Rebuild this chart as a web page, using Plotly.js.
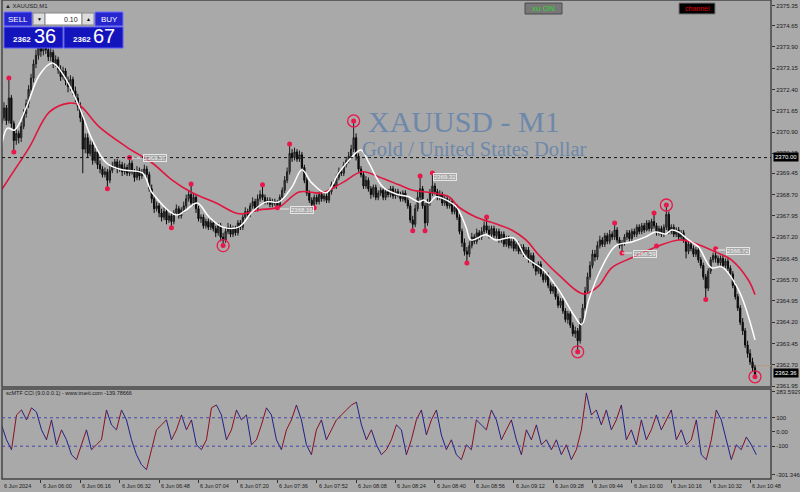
<!DOCTYPE html>
<html><head><meta charset="utf-8">
<script src="https://cdn.plot.ly/plotly-3.0.1.min.js"></script>
<style>html,body{margin:0;padding:0;background:#a9a9a9;overflow:hidden}#chart{width:800px;height:492px}</style>
</head><body><div id="chart"></div>
<script>
// ---- time axis labels (every 16 bars of M1, first bar 05:44) ----
const timeLabels = ['6 Jun 2024','6 Jun 06:00','6 Jun 06:16','6 Jun 06:32','6 Jun 06:48','6 Jun 07:04','6 Jun 07:20','6 Jun 07:36','6 Jun 07:52','6 Jun 08:08','6 Jun 08:24','6 Jun 08:40','6 Jun 08:56','6 Jun 09:12','6 Jun 09:28','6 Jun 09:44','6 Jun 10:00','6 Jun 10:16','6 Jun 10:32','6 Jun 10:48'];
const labelEvery = 16;

// ---- M1 candles ----
const open = [
2371.20,2371.40,2371.75,2371.30,2372.10,2371.20,2370.60,2370.85,2370.70,2371.10,
2371.55,2371.90,2372.40,2372.80,2373.30,2373.60,2373.90,2373.75,2374.00,2373.80,
2373.55,2373.70,2373.30,2373.45,2373.10,2372.85,2373.05,2372.70,2372.50,2372.75,
2372.35,2372.10,2371.80,2371.40,2370.30,2370.70,2370.15,2370.45,2369.90,2370.20,
2369.75,2369.60,2369.40,2369.50,2369.20,2369.55,2369.70,2369.85,2369.60,2369.75,
2369.50,2369.65,2369.45,2369.80,2369.50,2369.30,2369.55,2369.35,2369.45,2369.60,
2369.40,2368.90,2368.55,2368.20,2368.30,2368.05,2367.90,2368.10,2367.80,2367.95,
2367.75,2368.05,2368.20,2367.95,2368.15,2368.30,2368.55,2368.70,2368.40,2368.60,
2368.20,2367.85,2367.90,2367.60,2367.75,2367.55,2367.70,2367.50,2367.35,2367.60,
2367.20,2367.10,2367.40,2367.55,2367.30,2367.50,2367.35,2367.70,2367.55,2367.90,
2368.10,2368.00,2368.30,2368.45,2368.20,2368.55,2368.70,2368.60,2368.45,2368.50,
2368.35,2368.45,2368.40,2368.30,2368.60,2368.85,2369.20,2369.50,2370.15,2370.00,
2370.20,2369.95,2370.10,2369.65,2369.20,2368.75,2368.50,2368.35,2368.60,2368.45,
2368.70,2368.55,2368.65,2368.50,2368.80,2369.05,2369.00,2369.30,2369.50,2369.45,
2369.75,2369.90,2370.05,2370.30,2370.70,2370.05,2369.60,2369.40,2369.00,2369.20,
2368.90,2368.70,2368.95,2368.60,2368.75,2368.85,2368.60,2368.80,2368.70,2368.90,
2368.65,2368.80,2368.70,2368.55,2368.75,2368.50,2368.30,2367.80,2367.65,2368.20,
2368.60,2368.90,2368.30,2367.70,2368.40,2368.75,2369.00,2368.80,2368.60,2368.70,
2368.40,2368.55,2368.30,2368.45,2368.10,2368.25,2367.90,2367.40,2367.00,2366.70,
2366.60,2366.90,2367.20,2367.05,2367.35,2367.20,2367.40,2367.60,2367.45,2367.30,
2367.50,2367.25,2367.40,2367.10,2367.30,2366.95,2367.15,2366.90,2367.05,2366.80,
2366.95,2366.70,2366.85,2366.60,2366.75,2366.40,2366.55,2366.20,2366.00,2366.25,
2365.90,2365.70,2365.85,2365.50,2365.30,2365.45,2365.10,2364.80,2364.95,2364.60,
2364.30,2364.50,2364.10,2363.80,2363.90,2363.55,2364.20,2364.70,2365.30,2365.80,
2366.20,2366.60,2366.50,2366.90,2367.10,2366.95,2367.25,2367.05,2367.30,2367.20,
2367.45,2367.10,2366.90,2367.00,2367.20,2367.35,2367.15,2367.40,2367.30,2367.55,
2367.40,2367.60,2367.45,2367.70,2367.50,2367.75,2367.60,2367.35,2367.50,2367.30,
2367.55,2368.00,2367.40,2367.55,2367.30,2367.45,2367.20,2367.35,2367.10,2366.70,
2366.95,2366.80,2366.60,2366.75,2366.40,2366.20,2365.80,2365.40,2366.00,2366.40,
2366.55,2366.45,2366.30,2366.45,2366.20,2366.35,2366.10,2365.90,2365.50,2365.10,
2364.70,2364.20,2363.90,2363.40,2363.10,2362.80,2362.60];
const high = [
2371.60,2371.95,2371.85,2372.80,2372.20,2371.30,2371.05,2370.95,2371.25,2371.70,
2372.05,2372.55,2372.95,2373.45,2373.80,2374.15,2374.05,2374.25,2374.15,2373.95,
2373.85,2373.80,2373.60,2373.55,2373.25,2373.20,2373.15,2372.85,2372.90,2372.85,
2372.50,2372.25,2371.95,2371.55,2370.85,2370.85,2370.60,2370.60,2370.35,2370.30,
2369.90,2369.70,2369.65,2369.60,2369.70,2369.85,2369.95,2369.95,2369.90,2369.85,
2369.80,2369.75,2370.00,2369.90,2369.60,2369.70,2369.65,2369.60,2369.75,2369.70,
2369.50,2369.05,2368.70,2368.45,2368.40,2368.20,2368.25,2368.20,2368.05,2368.05,
2368.15,2368.35,2368.30,2368.25,2368.45,2368.70,2368.85,2369.07,2368.75,2368.70,
2368.30,2368.00,2368.00,2367.85,2367.85,2367.80,2367.80,2367.60,2367.70,2367.70,
2367.35,2367.55,2367.70,2367.65,2367.60,2367.60,2367.80,2367.80,2368.00,2368.25,
2368.20,2368.40,2368.60,2368.55,2368.70,2368.85,2369.04,2368.70,2368.60,2368.60,
2368.55,2368.55,2368.50,2368.70,2368.95,2369.35,2369.65,2370.48,2370.30,2370.35,
2370.30,2370.25,2370.20,2369.75,2369.30,2368.85,2368.60,2368.70,2368.70,2368.80,
2368.80,2368.75,2368.75,2368.90,2369.15,2369.20,2369.40,2369.65,2369.60,2369.85,
2370.00,2370.20,2370.45,2371.29,2370.85,2370.15,2369.70,2369.50,2369.35,2369.30,
2369.00,2369.05,2369.05,2368.85,2368.95,2368.95,2368.90,2368.90,2369.00,2369.00,
2368.90,2368.90,2368.80,2368.85,2368.85,2368.60,2368.40,2367.95,2368.35,2368.80,
2369.35,2369.00,2368.40,2368.55,2368.90,2369.46,2369.10,2368.90,2368.85,2368.80,
2368.65,2368.65,2368.55,2368.55,2368.35,2368.35,2368.00,2367.50,2367.15,2366.85,
2367.05,2367.35,2367.30,2367.50,2367.45,2367.55,2367.75,2367.91,2367.60,2367.60,
2367.60,2367.50,2367.50,2367.40,2367.40,2367.25,2367.25,2367.15,2367.15,2367.05,
2367.05,2366.95,2366.95,2366.85,2366.85,2366.65,2366.65,2366.30,2366.35,2366.35,
2366.00,2365.95,2365.95,2365.60,2365.55,2365.55,2365.20,2365.05,2365.05,2364.70,
2364.60,2364.60,2364.20,2364.05,2364.00,2364.35,2364.85,2365.45,2365.95,2366.35,
2366.75,2366.75,2367.05,2367.25,2367.20,2367.35,2367.35,2367.45,2367.40,2367.70,
2367.55,2367.20,2367.10,2367.30,2367.45,2367.45,2367.50,2367.50,2367.65,2367.65,
2367.70,2367.70,2367.80,2367.80,2367.85,2368.05,2367.70,2367.60,2367.60,2367.65,
2368.33,2368.10,2367.65,2367.65,2367.55,2367.55,2367.45,2367.45,2367.20,2367.05,
2367.05,2366.90,2366.85,2366.85,2366.50,2366.30,2365.90,2366.10,2366.50,2366.65,
2366.79,2366.55,2366.55,2366.55,2366.45,2366.45,2366.20,2366.00,2365.60,2365.20,
2364.80,2364.35,2364.00,2363.55,2363.25,2362.95,2362.70];
const low = [
2371.05,2371.30,2371.15,2371.20,2371.05,2370.20,2370.45,2370.50,2370.55,2371.00,
2371.40,2371.75,2372.25,2372.65,2373.15,2373.45,2373.55,2373.60,2373.65,2373.40,
2373.40,2373.15,2373.20,2372.95,2372.70,2372.75,2372.55,2372.30,2372.35,2372.20,
2371.95,2371.65,2371.25,2369.45,2370.15,2370.00,2370.05,2369.75,2369.80,2369.60,
2369.45,2369.30,2369.30,2368.90,2369.10,2369.45,2369.60,2369.45,2369.50,2369.35,
2369.40,2369.35,2369.35,2369.40,2369.15,2369.20,2369.20,2369.25,2369.35,2369.25,
2368.80,2368.40,2368.05,2368.10,2367.90,2367.75,2367.80,2367.65,2367.70,2367.53,
2367.65,2367.95,2367.85,2367.85,2368.05,2368.20,2368.45,2368.30,2368.30,2368.05,
2367.75,2367.70,2367.50,2367.50,2367.45,2367.45,2367.40,2367.20,2367.25,2367.05,
2366.90,2367.00,2367.30,2367.20,2367.20,2367.25,2367.25,2367.45,2367.45,2367.80,
2367.90,2367.90,2368.20,2368.10,2368.10,2368.45,2368.50,2368.35,2368.35,2368.25,
2368.25,2368.30,2368.23,2368.25,2368.50,2368.75,2369.10,2369.40,2369.85,2369.90,
2369.85,2369.85,2369.55,2369.10,2368.65,2368.40,2368.25,2368.23,2368.35,2368.35,
2368.45,2368.45,2368.40,2368.40,2368.70,2368.90,2368.90,2369.20,2369.35,2369.35,
2369.65,2369.80,2369.95,2370.20,2369.90,2369.50,2369.30,2368.90,2368.90,2368.80,
2368.55,2368.60,2368.50,2368.50,2368.65,2368.50,2368.50,2368.60,2368.60,2368.55,
2368.55,2368.60,2368.45,2368.45,2368.40,2368.20,2367.70,2367.42,2367.55,2368.10,
2368.50,2368.20,2367.42,2367.60,2368.30,2368.65,2368.70,2368.50,2368.50,2368.30,
2368.30,2368.20,2368.20,2368.00,2368.00,2367.80,2367.30,2366.85,2366.55,2366.29,
2366.50,2366.80,2366.95,2366.95,2367.10,2367.10,2367.30,2367.35,2367.15,2367.20,
2367.15,2367.15,2367.00,2367.00,2366.85,2366.85,2366.80,2366.80,2366.70,2366.70,
2366.60,2366.60,2366.50,2366.50,2366.30,2366.30,2366.10,2365.85,2365.90,2365.80,
2365.60,2365.60,2365.40,2365.20,2365.20,2365.00,2364.70,2364.70,2364.50,2364.20,
2364.15,2364.00,2363.70,2363.65,2363.16,2363.45,2364.10,2364.60,2365.20,2365.70,
2366.10,2366.35,2366.40,2366.80,2366.85,2366.85,2366.95,2366.95,2367.10,2367.10,
2367.00,2366.80,2366.64,2366.90,2367.10,2367.05,2367.05,2367.20,2367.20,2367.30,
2367.30,2367.35,2367.40,2367.40,2367.40,2367.50,2367.25,2367.25,2367.20,2367.20,
2367.45,2367.30,2367.30,2367.20,2367.20,2367.10,2367.10,2367.00,2366.45,2366.60,
2366.70,2366.50,2366.50,2366.30,2366.10,2365.70,2365.00,2365.30,2365.90,2366.30,
2366.30,2366.20,2366.20,2366.10,2366.10,2366.00,2365.80,2365.40,2365.00,2364.60,
2364.10,2363.75,2363.30,2362.95,2362.70,2362.45,2362.28];
const close = [
2371.40,2371.75,2371.30,2372.10,2371.20,2370.60,2370.85,2370.70,2371.10,2371.55,
2371.90,2372.40,2372.80,2373.30,2373.60,2373.90,2373.75,2374.00,2373.80,2373.55,
2373.70,2373.30,2373.45,2373.10,2372.85,2373.05,2372.70,2372.50,2372.75,2372.35,
2372.10,2371.80,2371.40,2370.30,2370.70,2370.15,2370.45,2369.90,2370.20,2369.75,
2369.60,2369.40,2369.50,2369.20,2369.55,2369.70,2369.85,2369.60,2369.75,2369.50,
2369.65,2369.45,2369.80,2369.50,2369.30,2369.55,2369.35,2369.45,2369.60,2369.40,
2368.90,2368.55,2368.20,2368.30,2368.05,2367.90,2368.10,2367.80,2367.95,2367.75,
2368.05,2368.20,2367.95,2368.15,2368.30,2368.55,2368.70,2368.40,2368.60,2368.20,
2367.85,2367.90,2367.60,2367.75,2367.55,2367.70,2367.50,2367.35,2367.60,2367.20,
2367.10,2367.40,2367.55,2367.30,2367.50,2367.35,2367.70,2367.55,2367.90,2368.10,
2368.00,2368.30,2368.45,2368.20,2368.55,2368.70,2368.60,2368.45,2368.50,2368.35,
2368.45,2368.40,2368.30,2368.60,2368.85,2369.20,2369.50,2370.15,2370.00,2370.20,
2369.95,2370.10,2369.65,2369.20,2368.75,2368.50,2368.35,2368.60,2368.45,2368.70,
2368.55,2368.65,2368.50,2368.80,2369.05,2369.00,2369.30,2369.50,2369.45,2369.75,
2369.90,2370.05,2370.30,2370.70,2370.05,2369.60,2369.40,2369.00,2369.20,2368.90,
2368.70,2368.95,2368.60,2368.75,2368.85,2368.60,2368.80,2368.70,2368.90,2368.65,
2368.80,2368.70,2368.55,2368.75,2368.50,2368.30,2367.80,2367.65,2368.20,2368.60,
2368.90,2368.30,2367.70,2368.40,2368.75,2369.00,2368.80,2368.60,2368.70,2368.40,
2368.55,2368.30,2368.45,2368.10,2368.25,2367.90,2367.40,2367.00,2366.70,2366.60,
2366.90,2367.20,2367.05,2367.35,2367.20,2367.40,2367.60,2367.45,2367.30,2367.50,
2367.25,2367.40,2367.10,2367.30,2366.95,2367.15,2366.90,2367.05,2366.80,2366.95,
2366.70,2366.85,2366.60,2366.75,2366.40,2366.55,2366.20,2366.00,2366.25,2365.90,
2365.70,2365.85,2365.50,2365.30,2365.45,2365.10,2364.80,2364.95,2364.60,2364.30,
2364.50,2364.10,2363.80,2363.90,2363.55,2364.20,2364.70,2365.30,2365.80,2366.20,
2366.60,2366.50,2366.90,2367.10,2366.95,2367.25,2367.05,2367.30,2367.20,2367.45,
2367.10,2366.90,2367.00,2367.20,2367.35,2367.15,2367.40,2367.30,2367.55,2367.40,
2367.60,2367.45,2367.70,2367.50,2367.75,2367.60,2367.35,2367.50,2367.30,2367.55,
2368.00,2367.40,2367.55,2367.30,2367.45,2367.20,2367.35,2367.10,2366.70,2366.95,
2366.80,2366.60,2366.75,2366.40,2366.20,2365.80,2365.40,2366.00,2366.40,2366.55,
2366.45,2366.30,2366.45,2366.20,2366.35,2366.10,2365.90,2365.50,2365.10,2364.70,
2364.20,2363.90,2363.40,2363.10,2362.80,2362.60,2362.36];

// ---- moving averages (bar index, price) ----
const whiteMaBar = [0,2.4,5.3,10.1,15.4,20.7,26.4,31.6,36.9,42.6,49,57.2,61.2,71,75,79.5,84.3,89.6,96.5,101.8,107.5,112.7,118,122,126,131.8,137,142.3,146,149.2,155,161.4,165.4,169.5,171.5,173.6,176.4,180.5,185,188.6,190.6,196.7,200.7,208,212.9,220,226.3,232.4,235.6,238.5,243.3,249.4,255.9,261.6,265.6,269.7,272.1,275,279,283,288.3,292.4,299.3,306];
const whiteMa = [2370.38,2371.04,2370.97,2371.78,2372.91,2373.33,2372.73,2371.78,2370.62,2369.81,2369.57,2369.46,2368.76,2367.98,2368.16,2368.40,2367.91,2367.56,2367.56,2368.09,2368.44,2368.44,2368.97,2369.57,2369.11,2368.76,2369.46,2370.02,2370.27,2369.81,2368.95,2368.69,2368.62,2368.44,2368.51,2368.40,2368.62,2368.51,2368.23,2367.56,2367.10,2367.28,2367.10,2367.17,2366.50,2366.05,2365.34,2364.46,2364.11,2364.99,2366.05,2366.89,2367.03,2367.21,2367.38,2367.31,2367.45,2367.38,2367.10,2366.86,2366.12,2366.15,2365.34,2363.58];
const redMaBar = [0,4.5,11.4,19.5,27.6,31.6,39.7,50.7,61.2,69.3,77.5,87.2,96.5,104.6,112.7,120.8,130.2,138.3,146.4,153.3,161.4,166.7,174.8,181.7,185.7,192.6,202,207.2,213,218.2,226.3,236.4,242.5,247.8,255.9,266.8,275,280.2,289.9,296.4,303.3,306];
const redMa = [2368.86,2369.46,2370.38,2371.61,2371.92,2371.85,2371.08,2370.38,2369.81,2369.21,2368.76,2368.40,2368.02,2368.16,2368.26,2368.79,2368.76,2369.11,2369.50,2369.32,2369.04,2368.86,2368.76,2368.62,2368.26,2367.91,2367.63,2367.45,2367.10,2366.57,2365.87,2365.20,2365.48,2366.12,2366.47,2366.89,2367.10,2367.03,2366.68,2366.40,2365.69,2365.17];

// ---- swing markers ----
const dotBar = [3,5,43,52,69,77,106,112,117,127,167,170,172,175,189,197,249,252,265,266,286,290];
const dotPrice = [2372.80,2370.20,2368.90,2370.00,2367.53,2369.07,2369.04,2368.23,2370.48,2368.23,2367.42,2369.35,2367.42,2369.46,2366.29,2367.91,2367.70,2366.64,2368.05,2366.89,2365.00,2366.79];
const ringBar = [90,143,234,270,306];
const ringPrice = [2366.90,2371.29,2363.16,2368.33,2362.28];

// ---- CCI (one reading every 2 bars) ----
const cci = [50,-55,-125,120,155,85,170,140,15,-55,85,-90,15,-55,-160,-195,-90,15,-125,-90,-55,155,50,15,155,85,-55,-160,-230,-265,-125,15,50,85,-55,15,120,15,85,-90,-125,-55,170,190,120,-55,15,155,85,120,-90,-55,50,170,120,-55,-125,15,85,190,85,-90,-160,15,85,-55,15,85,120,155,190,210,50,-55,15,-90,-160,-125,-55,50,15,-160,-55,85,155,-21,85,155,-21,-125,-55,-160,-195,-90,-125,85,50,15,155,85,-55,15,85,-55,-160,15,-55,50,-90,-55,-125,-55,-160,-90,-195,-125,15,275,120,155,50,155,15,85,190,-55,15,-90,85,-55,15,120,15,85,155,-55,15,-90,-55,85,-160,-195,-55,155,85,-55,-195,-90,-125,-35,-90,-160];
const cciStep = 2.03;

// ---- tick values ----
const priceTicks = [2375.35,2374.65,2373.90,2373.15,2372.40,2371.65,2370.90,2370.15,2369.45,2368.70,2367.95,2367.20,2366.45,2365.70,2364.95,2364.20,2363.45,2362.70,2361.95];
const cciTicks = [283.59294,100,0,-100,-301.3463];
const cciTickText = ['283.59294','100','0.00','-100','-301.3463'];

// ---------------------------------------------------------------
const bars = close.map((_, i) => i);
const PW = 769, PH = 479, LM = 2;
const XR = [0.2, 312.5];
const px = x => (x - LM) / PW;
const py = y => 1 - y / PH;
const barToPaper = m => (m - XR[0]) / (XR[1] - XR[0]);
const F = 'Liberation Sans, Arial, sans-serif';

const traces = [];
traces.push({type:'candlestick', x:bars, open:open, high:high, low:low, close:close, xaxis:'x', yaxis:'y',
  increasing:{line:{color:'#1c1c1c', width:1}, fillcolor:'#5a5a5a'},
  decreasing:{line:{color:'#0a0a0a', width:1}, fillcolor:'#111111'},
  whiskerwidth:0, hoverinfo:'skip'});
traces.push({type:'scatter', mode:'lines', x:redMaBar, y:redMa, line:{color:'#e0163f', width:1.6, shape:'spline'}, hoverinfo:'skip'});
traces.push({type:'scatter', mode:'lines', x:whiteMaBar, y:whiteMa, line:{color:'#ffffff', width:1.5, shape:'spline'}, hoverinfo:'skip'});
traces.push({type:'scatter', mode:'markers', x:dotBar, y:dotPrice, marker:{color:'#e8184b', size:5}, hoverinfo:'skip'});
traces.push({type:'scatter', mode:'markers', x:ringBar, y:ringPrice, marker:{color:'#e8184b', size:5}, hoverinfo:'skip'});
traces.push({type:'scatter', mode:'markers', x:ringBar, y:ringPrice, marker:{symbol:'circle-open', color:'#e8184b', size:12, line:{width:1.3, color:'#e8184b'}}, hoverinfo:'skip'});

// CCI coloured by direction
const upX=[], upY=[], dnX=[], dnY=[];
for (let i = 0; i < cci.length - 1; i++) {
  const a = i*cciStep, b = (i+1)*cciStep;
  if (cci[i+1] >= cci[i]) { upX.push(a,b,null); upY.push(cci[i],cci[i+1],null); }
  else { dnX.push(a,b,null); dnY.push(cci[i],cci[i+1],null); }
}
traces.push({type:'scatter', mode:'lines', x:upX, y:upY, xaxis:'x', yaxis:'y2', line:{color:'#8a1020', width:1}, hoverinfo:'skip', connectgaps:false});
traces.push({type:'scatter', mode:'lines', x:dnX, y:dnY, xaxis:'x', yaxis:'y2', line:{color:'#20208a', width:1}, hoverinfo:'skip', connectgaps:false});

const shapes = [
  {type:'rect', xref:'paper', yref:'paper', x0:0, x1:1, y0:0.192, y1:1, line:{color:'#454545', width:1.5}},
  {type:'rect', xref:'paper', yref:'paper', x0:0, x1:1, y0:0, y1:0.188, line:{color:'#454545', width:1.5}},
  {type:'line', xref:'paper', yref:'y', x0:0, x1:1, y0:2370.0, y1:2370.0, line:{color:'#111', width:1, dash:'dot'}},
  {type:'line', xref:'paper', yref:'y', x0:px(757), x1:1, y0:2362.67, y1:2362.67, line:{color:'#b8967a', width:1}},
  {type:'line', xref:'paper', yref:'y2', x0:0, x1:1, y0:100, y1:100, line:{color:'#4848a8', width:1, dash:'dot'}},
  {type:'line', xref:'paper', yref:'y2', x0:0, x1:1, y0:-100, y1:-100, line:{color:'#4848a8', width:1, dash:'dot'}},
  {type:'rect', xref:'paper', yref:'paper', x0:px(4), x1:px(32), y0:py(26), y1:py(12), fillcolor:'#2626cf', line:{color:'#7070ff', width:1}},
  {type:'rect', xref:'paper', yref:'paper', x0:px(33), x1:px(45), y0:py(25), y1:py(13), fillcolor:'#dcdcdc', line:{color:'#888', width:1}},
  {type:'rect', xref:'paper', yref:'paper', x0:px(45), x1:px(82), y0:py(25), y1:py(13), fillcolor:'#ffffff', line:{color:'#888', width:1}},
  {type:'rect', xref:'paper', yref:'paper', x0:px(82), x1:px(94), y0:py(25), y1:py(13), fillcolor:'#dcdcdc', line:{color:'#888', width:1}},
  {type:'rect', xref:'paper', yref:'paper', x0:px(95), x1:px(123), y0:py(26), y1:py(12), fillcolor:'#2626cf', line:{color:'#7070ff', width:1}},
  {type:'rect', xref:'paper', yref:'paper', x0:px(4), x1:px(63), y0:py(48), y1:py(27), fillcolor:'#1414bd', line:{color:'#5a5aff', width:1}},
  {type:'rect', xref:'paper', yref:'paper', x0:px(64), x1:px(123), y0:py(48), y1:py(27), fillcolor:'#1414bd', line:{color:'#5a5aff', width:1}},
  {type:'rect', xref:'paper', yref:'paper', x0:px(525), x1:px(562), y0:py(14), y1:py(3), fillcolor:'#777777', line:{color:'#4a4a4a', width:1}},
  {type:'rect', xref:'paper', yref:'paper', x0:px(679), x1:px(715), y0:py(14), y1:py(3), fillcolor:'#000000', line:{color:'#777', width:1}},
  {type:'line', xref:'paper', yref:'paper', x0:px(132), x1:px(142), y0:py(158), y1:py(158), line:{color:'#e8e8e8', width:1}},
  {type:'line', xref:'paper', yref:'paper', x0:px(280), x1:px(289), y0:py(209), y1:py(209), line:{color:'#e8e8e8', width:1}},
  {type:'line', xref:'paper', yref:'paper', x0:px(622), x1:px(632), y0:py(253), y1:py(253), line:{color:'#e8e8e8', width:1}},
  {type:'line', xref:'paper', yref:'paper', x0:px(716), x1:px(725), y0:py(250), y1:py(250), line:{color:'#e8e8e8', width:1}}
];

const ann = [];
const A = (x, y, text, o) => ann.push(Object.assign({xref:'paper', yref:'paper', x:px(x), y:py(y), text:text, showarrow:false, xanchor:'center', yanchor:'middle', font:{family:F, size:6, color:'#1a1a1a'}}, o||{}));
A(464, 122, 'XAUUSD - M1', {font:{family:'Liberation Serif, Times New Roman, serif', size:30, color:'#6d88aa'}});
A(474, 149, 'Gold / United States Dollar', {font:{family:'Liberation Serif, Times New Roman, serif', size:20.5, color:'#6d88aa'}});
A(3, 6, '▲ XAUUSD,M1', {xanchor:'left', font:{family:F, size:6, color:'#222'}});
A(18, 19, 'SELL', {font:{family:F, size:8, color:'#ffffff'}});
A(39, 19, '▼', {font:{family:F, size:5, color:'#000'}});
A(80, 19, '0.10', {xanchor:'right', font:{family:F, size:7, color:'#222'}});
A(88, 19, '▲', {font:{family:F, size:5, color:'#000'}});
A(109, 19, 'BUY', {font:{family:F, size:8, color:'#ffffff'}});
A(22, 39, '<b>2362</b>', {font:{family:F, size:8, color:'#ffffff'}});
A(45, 36, '36', {font:{family:F, size:20, color:'#ffffff'}});
A(82, 39, '<b>2362</b>', {font:{family:F, size:8, color:'#ffffff'}});
A(104, 36, '67', {font:{family:F, size:20, color:'#ffffff'}});
A(543, 9, 'xu ON', {font:{family:F, size:8, color:'#2fd52f'}});
A(697, 9, 'channel', {font:{family:F, size:7, color:'#e00000'}});
const lvl = {font:{family:F, size:6, color:'#f2f2f2'}, bordercolor:'#e6e6e6', borderwidth:1, borderpad:0, bgcolor:'rgba(169,169,169,0.5)'};
A(154.5, 158, '2369.57', lvl);
A(301.5, 209.5, '2368.16', lvl);
A(445, 177.5, '2369.32', lvl);
A(644.5, 253.5, '2366.59', lvl);
A(737.5, 250.5, '2366.72', lvl);
A(773, 157, '2370.00', {xanchor:'left', bgcolor:'#000000', font:{family:F, size:6, color:'#ffffff'}, borderpad:1});
A(773, 373, '2362.36', {xanchor:'left', bgcolor:'#000000', font:{family:F, size:6, color:'#ffffff'}, borderpad:1});
A(4, 393, 'scMTF CCI (9.0.0.0.1) - www.trueti.com -139.78666', {xanchor:'left', font:{family:F, size:5.5, color:'#1a1a1a'}});
timeLabels.forEach((t, k) => ann.push({xref:'paper', yref:'paper', x:barToPaper(k*labelEvery), y:0, yshift:-7, text:t, showarrow:false, xanchor:'left', yanchor:'middle', font:{family:F, size:5.5, color:'#1a1a1a'}}));

const layout = {
  width:800, height:492, margin:{l:2, r:29, t:0, b:13, pad:0},
  paper_bgcolor:'#a9a9a9', plot_bgcolor:'#a9a9a9', showlegend:false,
  xaxis:{range:XR, anchor:'y2', rangeslider:{visible:false}, showgrid:false, zeroline:false,
    tickvals:timeLabels.map((_, k) => k*labelEvery), showticklabels:false, ticks:'outside', ticklen:3, tickcolor:'#333'},
  yaxis:{domain:[0.192,1], range:[2361.92, 2375.55], side:'right', anchor:'x', showgrid:false, zeroline:false,
    tickvals:priceTicks, ticktext:priceTicks.map(v => v.toFixed(2)), ticks:'outside', ticklen:3, tickcolor:'#333',
    tickfont:{family:F, size:6, color:'#1a1a1a'}},
  yaxis2:{domain:[0,0.188], range:[-331, 303], side:'right', anchor:'x', showgrid:false, zeroline:false,
    tickvals:cciTicks, ticktext:cciTickText, ticks:'outside', ticklen:3, tickcolor:'#333',
    tickfont:{family:F, size:6, color:'#1a1a1a'}},
  shapes:shapes, annotations:ann
};
Plotly.newPlot('chart', traces, layout, {staticPlot:true, displayModeBar:false});
</script></body></html>
